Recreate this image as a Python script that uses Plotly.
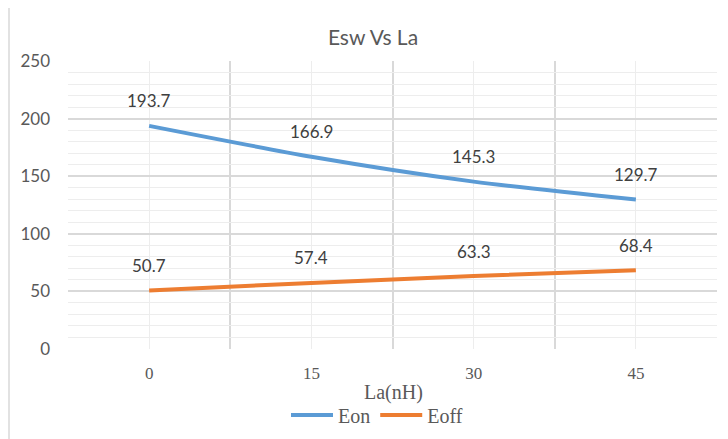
import plotly.graph_objects as go

la_values = [0, 15, 30, 45]
eon = [193.7, 166.9, 145.3, 129.7]
eoff = [50.7, 57.4, 63.3, 68.4]
series_names = ["Eon", "Eoff"]
series_colors = ["#5B9BD5", "#ED7D31"]

# page body has an 8px default margin: work in reference pixels, shifted by OFF
OFF = 8
W, H = 728 - OFF, 439 - OFF
L, R, T, B = 68 - OFF, 717 - OFF, 61 - OFF, 349 - OFF
PW, PH = R - L, B - T


def px(x):
    return (x - OFF - L) / PW


def py(y):
    return (B - (y - OFF)) / PH


fig = go.Figure()
for name, vals, col in zip(series_names, [eon, eoff], series_colors):
    fig.add_trace(go.Scatter(
        x=la_values, y=vals, name=name, mode="lines",
        line=dict(color=col, width=4, shape="spline", smoothing=0.7),
        hoverinfo="skip",
    ))

annotations = []
for vals in [eon, eoff]:
    for xv, yv in zip(la_values, vals):
        annotations.append(dict(
            x=xv, y=yv, xref="x", yref="y", text=f"{yv:.1f}", showarrow=False,
            yshift=25, font=dict(family="Lato, Open Sans, sans-serif", size=17, color="#404040"),
        ))
annotations.append(dict(
    x=px(393), y=py(392), xref="paper", yref="paper",
    text="La(nH)", showarrow=False, xanchor="center", yanchor="middle",
    font=dict(family="Liberation Serif, serif", size=20, color="#595959"),
))

half = 7.5
boundaries = [la_values[0] - half] + [v + half for v in la_values]

fig.update_layout(
    template="none",
    width=W, height=H,
    margin=dict(l=L, r=W - R, t=T, b=H - B, pad=0, autoexpand=False),
    paper_bgcolor="white", plot_bgcolor="white",
    title=dict(text="Esw Vs La", x=(373 - OFF) / W, xanchor="center", y=1 - (38 - OFF) / H, yanchor="middle",
               xref="container", yref="container",
               font=dict(family="Lato, Open Sans, sans-serif", size=21, color="#595959")),
    showlegend=True,
    legend=dict(orientation="h", x=px(377), xanchor="center", y=py(415), yanchor="middle",
                font=dict(family="Liberation Serif, serif", size=20, color="#595959"),
                bgcolor="rgba(0,0,0,0)", borderwidth=0,
                itemwidth=42, tracegroupgap=0),
    annotations=annotations,
    xaxis=dict(
        range=[boundaries[0], boundaries[-1]],
        tickmode="array", tickvals=la_values, ticktext=[str(v) for v in la_values],
        showgrid=True, gridcolor="#EDEDED", gridwidth=1,
        zeroline=False, showline=False, ticks="",
        automargin=False,
        ticklabelstandoff=12,
        tickfont=dict(family="Liberation Serif, serif", size=17, color="#595959"),
        minor=dict(tickmode="array", tickvals=boundaries, showgrid=True, gridcolor="#D9D9D9", gridwidth=1.5),
        fixedrange=True,
    ),
    yaxis=dict(
        range=[0, 250], tickmode="linear", tick0=0, dtick=50,
        showgrid=True, gridcolor="#D9D9D9", gridwidth=1.5,
        zeroline=False, showline=False, ticks="",
        automargin=False,
        ticklabelstandoff=17,
        tickfont=dict(family="Lato, Open Sans, sans-serif", size=17, color="#595959"),
        minor=dict(dtick=10, showgrid=True, gridcolor="#EDEDED", gridwidth=1),
        fixedrange=True,
    ),
    shapes=[dict(type="rect", xref="paper", yref="paper",
                 x0=px(9), x1=px(727), y0=py(446), y1=py(7),
                 line=dict(color="#D9D9D9", width=1.5), fillcolor="rgba(0,0,0,0)", layer="below")],
)

fig.write_html("out.html")
